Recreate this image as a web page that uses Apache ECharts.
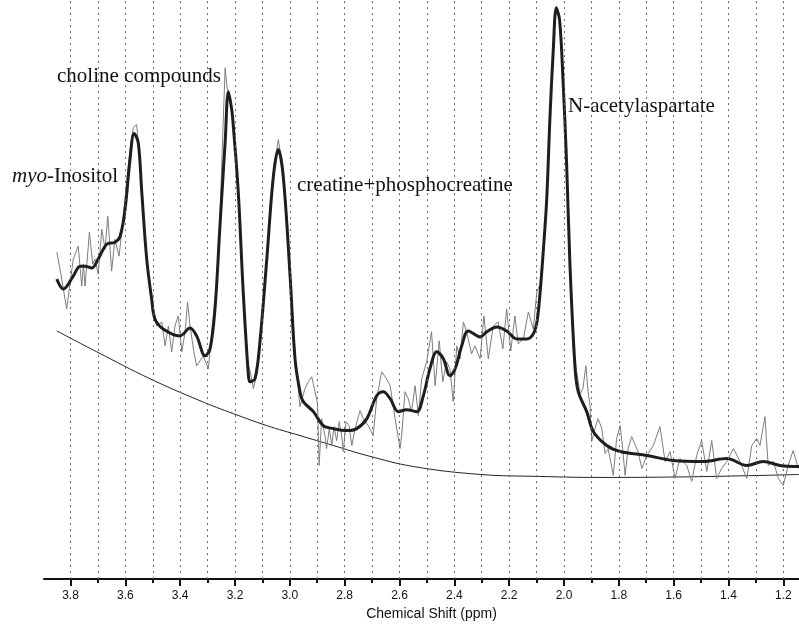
<!DOCTYPE html>
<html>
<head>
<meta charset="utf-8">
<script src="https://cdn.jsdelivr.net/npm/echarts@6/dist/echarts.min.js"></script>
<style>
    html, body { margin: 0; padding: 0; background: #fff; }
    #chart { width: 799px; height: 626px; }
</style>
</head>
<body>
<div id="chart"></div>
<script>
// chemical shift (ppm) / intensity (arbitrary units)
const fitShift = [3.850,3.826,3.790,3.765,3.747,3.723,3.699,3.668,3.638,3.619,3.601,3.583,3.568,3.553,3.540,3.522,3.504,3.492,3.462,3.401,3.364,3.340,3.309,3.291,3.273,3.255,3.236,3.224,3.212,3.206,3.188,3.170,3.151,3.145,3.127,3.109,3.084,3.060,3.042,3.024,2.999,2.981,2.963,2.951,2.914,2.878,2.841,2.792,2.756,2.719,2.683,2.659,2.634,2.604,2.574,2.537,2.513,2.489,2.464,2.440,2.416,2.397,2.373,2.349,2.306,2.282,2.245,2.209,2.172,2.136,2.112,2.098,2.087,2.075,2.063,2.051,2.039,2.028,2.016,2.003,1.990,1.978,1.960,1.948,1.917,1.893,1.844,1.795,1.698,1.601,1.492,1.406,1.333,1.273,1.212,1.142];
const fitIntensity = [301,291,304,314,314,312,321,336,338,344,371,421,447,438,388,321,281,261,251,244,252,244,224,231,271,354,438,489,471,454,388,288,204,198,201,238,321,404,431,404,304,221,188,178,168,154,151,149,151,161,184,188,181,168,170,168,184,211,228,221,204,211,234,249,243,248,253,249,241,241,246,259,288,331,381,464,531,573,561,498,414,314,214,188,168,148,134,128,124,119,118,121,114,118,114,113];

const rawShift = [3.850,3.835,3.814,3.790,3.772,3.759,3.753,3.747,3.731,3.719,3.711,3.699,3.686,3.674,3.664,3.650,3.638,3.623,3.612,3.598,3.583,3.571,3.559,3.550,3.539,3.521,3.504,3.498,3.486,3.467,3.455,3.443,3.431,3.419,3.407,3.394,3.382,3.373,3.364,3.350,3.340,3.316,3.297,3.284,3.269,3.255,3.244,3.236,3.229,3.218,3.206,3.188,3.170,3.153,3.145,3.133,3.120,3.109,3.084,3.060,3.042,3.024,2.999,2.981,2.963,2.945,2.933,2.920,2.908,2.899,2.893,2.884,2.872,2.866,2.856,2.847,2.839,2.829,2.820,2.811,2.805,2.795,2.784,2.774,2.762,2.744,2.732,2.714,2.696,2.683,2.665,2.647,2.634,2.616,2.598,2.592,2.580,2.568,2.556,2.543,2.531,2.519,2.501,2.483,2.470,2.455,2.442,2.428,2.416,2.404,2.391,2.379,2.367,2.355,2.337,2.325,2.306,2.292,2.276,2.258,2.240,2.223,2.209,2.194,2.179,2.167,2.148,2.130,2.112,2.099,2.087,2.075,2.063,2.051,2.039,2.028,2.016,2.003,1.990,1.978,1.966,1.954,1.941,1.931,1.920,1.912,1.905,1.899,1.887,1.876,1.862,1.850,1.839,1.820,1.808,1.795,1.786,1.777,1.766,1.753,1.730,1.716,1.698,1.674,1.650,1.631,1.613,1.595,1.577,1.552,1.534,1.516,1.498,1.479,1.461,1.443,1.425,1.406,1.382,1.358,1.333,1.315,1.297,1.285,1.267,1.255,1.236,1.218,1.200,1.182,1.164,1.145];
const rawIntensity = [328,306,271,321,334,294,316,294,348,316,321,306,351,331,364,309,341,324,351,391,431,453,456,431,388,319,281,268,254,258,234,254,228,254,264,228,248,278,254,228,214,224,211,251,291,361,451,513,493,481,456,391,291,216,209,191,206,241,326,409,441,409,309,226,173,191,198,203,188,176,114,161,144,131,151,134,153,139,158,144,128,158,154,134,151,169,161,154,144,181,208,201,194,161,131,144,188,181,168,194,164,201,218,248,194,239,198,218,211,178,234,221,258,248,226,234,221,264,221,254,258,231,271,229,264,236,241,268,251,288,296,331,383,466,533,575,561,498,414,314,231,208,186,191,214,188,174,138,151,161,151,126,131,104,141,154,131,104,131,143,128,111,124,134,153,118,128,101,121,114,98,124,139,108,139,101,111,118,131,118,101,134,141,134,163,114,118,101,94,114,129,111];

const baseShift = [3.850,3.704,3.510,3.328,3.206,3.084,2.963,2.841,2.719,2.550,2.306,2.087,1.869,1.577,1.285,1.142];
const baseIntensity = [249,228,201,179,166,154,144,134,124,113,105,103,102,102.5,104,105];

const majorTicks = [1.2,1.4,1.6,1.8,2.0,2.2,2.4,2.6,2.8,3.0,3.2,3.4,3.6,3.8];
const minorTicks = [1.3,1.5,1.7,1.9,2.1,2.3,2.5,2.7,2.9,3.1,3.3,3.5,3.7];
const gridTicks = majorTicks.concat(minorTicks);

const zip = (xs, ys) => xs.map((x, i) => [x, ys[i]]);

const chart = echarts.init(document.getElementById('chart'));
const serif = "'Liberation Serif', 'Times New Roman', serif";
const sans = "'Liberation Sans Narrow', 'Liberation Sans', Arial, sans-serif";

const option = {
    animation: false,
    backgroundColor: '#fff',
    grid: { left: 44, right: 0, top: 0, bottom: 45 },
    xAxis: [{
        type: 'value',
        inverse: true,
        min: 1.1427,
        max: 3.8967,
        axisLine: { lineStyle: { color: '#111', width: 2 } },
        axisTick: { customValues: majorTicks, length: 7, lineStyle: { color: '#111', width: 2 } },
        axisLabel: {
            customValues: majorTicks,
            margin: 11,
            color: '#111',
            fontFamily: sans,
            fontSize: 12,
            formatter: v => v.toFixed(1)
        },
        splitLine: { show: false },
        name: 'Chemical Shift (ppm)',
        nameLocation: 'middle',
        nameGap: 25,
        nameTextStyle: { color: '#111', fontFamily: sans, fontSize: 14, padding: [0, 0, 0, 20] }
    }, {
        type: 'value',
        inverse: true,
        min: 1.1427,
        max: 3.8967,
        position: 'bottom',
        axisLine: { show: false },
        axisTick: { customValues: minorTicks, length: 4, lineStyle: { color: '#111', width: 2 } },
        axisLabel: { show: false },
        splitLine: { show: false }
    }],
    yAxis: {
        type: 'value',
        min: 0,
        max: 581,
        show: false
    },
    series: [{
        name: 'baseline',
        type: 'line',
        data: zip(baseShift, baseIntensity),
        smooth: 0.4,
        symbol: 'none',
        lineStyle: { color: '#222', width: 1 },
        markLine: {
            silent: true,
            symbol: 'none',
            label: { show: false },
            lineStyle: { color: '#666', width: 1, type: [2, 4] },
            data: gridTicks.map(v => ({ xAxis: v }))
        }
    }, {
        name: 'raw',
        type: 'line',
        data: zip(rawShift, rawIntensity),
        symbol: 'none',
        lineStyle: { color: '#7d7d7d', width: 1 }
    }, {
        name: 'fit',
        type: 'line',
        data: zip(fitShift, fitIntensity),
        smooth: 0.35,
        symbol: 'none',
        lineStyle: { color: '#1e1e1e', width: 3 }
    }],
    graphic: [{
        type: 'text', left: 57, top: 66,
        style: { text: 'choline compounds', font: '21px ' + serif, fill: '#111' }
    }, {
        type: 'text', left: 12, top: 166,
        style: {
            text: '{i|myo}-Inositol', font: '21px ' + serif, fill: '#111',
            rich: { i: { fontStyle: 'italic', fontFamily: serif, fontSize: 21, fill: '#111' } }
        }
    }, {
        type: 'text', left: 297, top: 175,
        style: { text: 'creatine+phosphocreatine', font: '21px ' + serif, fill: '#111' }
    }, {
        type: 'text', left: 568, top: 96,
        style: { text: 'N-acetylaspartate', font: '21px ' + serif, fill: '#111' }
    }]
};
chart.setOption(option);
</script>
</body>
</html>
